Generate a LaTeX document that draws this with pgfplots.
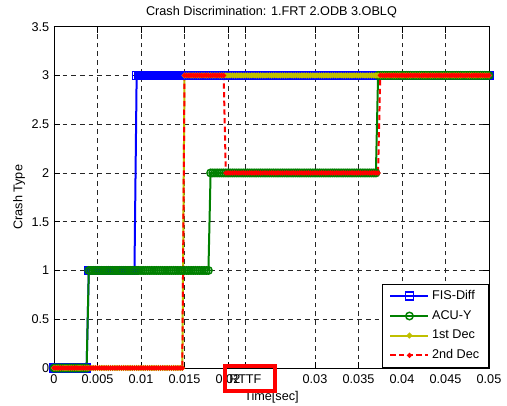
\documentclass[border=0pt]{standalone}
\usepackage{fontspec}
\setmainfont{Liberation Sans}
\usepackage{pgfplots}
\pgfplotsset{compat=1.18}
\usepackage{pgfplotstable}
\usetikzlibrary{calc}
\definecolor{mblue}{rgb}{0,0,1}
\definecolor{mgreen}{rgb}{0,0.5,0}
\definecolor{myellow}{rgb}{0.75,0.75,0}
\definecolor{mred}{rgb}{1,0,0}

\pgfplotstableread{
t fis acu da db
0 0 0 0 0
0.00025 0 0 0 0
0.0005 0 0 0 0
0.00075 0 0 0 0
0.001 0 0 0 0
0.00125 0 0 0 0
0.0015 0 0 0 0
0.00175 0 0 0 0
0.002 0 0 0 0
0.00225 0 0 0 0
0.0025 0 0 0 0
0.00275 0 0 0 0
0.003 0 0 0 0
0.00325 0 0 0 0
0.0035 0 0 0 0
0.00375 0 0 0 0
0.004 1 1 0 0
0.00425 1 1 0 0
0.0045 1 1 0 0
0.00475 1 1 0 0
0.005 1 1 0 0
0.00525 1 1 0 0
0.0055 1 1 0 0
0.00575 1 1 0 0
0.006 1 1 0 0
0.00625 1 1 0 0
0.0065 1 1 0 0
0.00675 1 1 0 0
0.007 1 1 0 0
0.00725 1 1 0 0
0.0075 1 1 0 0
0.00775 1 1 0 0
0.008 1 1 0 0
0.00825 1 1 0 0
0.0085 1 1 0 0
0.00875 1 1 0 0
0.009 1 1 0 0
0.00925 1 1 0 0
0.0095 3 1 0 0
0.00975 3 1 0 0
0.01 3 1 0 0
0.01025 3 1 0 0
0.0105 3 1 0 0
0.01075 3 1 0 0
0.011 3 1 0 0
0.01125 3 1 0 0
0.0115 3 1 0 0
0.01175 3 1 0 0
0.012 3 1 0 0
0.01225 3 1 0 0
0.0125 3 1 0 0
0.01275 3 1 0 0
0.013 3 1 0 0
0.01325 3 1 0 0
0.0135 3 1 0 0
0.01375 3 1 0 0
0.014 3 1 0 0
0.01425 3 1 0 0
0.0145 3 1 0 0
0.01475 3 1 0 0
0.015 3 1 3 3
0.01525 3 1 3 3
0.0155 3 1 3 3
0.01575 3 1 3 3
0.016 3 1 3 3
0.01625 3 1 3 3
0.0165 3 1 3 3
0.01675 3 1 3 3
0.017 3 1 3 3
0.01725 3 1 3 3
0.0175 3 1 3 3
0.01775 3 1 3 3
0.018 3 2 3 3
0.01825 3 2 3 3
0.0185 3 2 3 3
0.01875 3 2 3 3
0.019 3 2 3 3
0.01925 3 2 3 3
0.0195 3 2 3 3
0.01975 3 2 3 2
0.02 3 2 3 2
0.02025 3 2 3 2
0.0205 3 2 3 2
0.02075 3 2 3 2
0.021 3 2 3 2
0.02125 3 2 3 2
0.0215 3 2 3 2
0.02175 3 2 3 2
0.022 3 2 3 2
0.02225 3 2 3 2
0.0225 3 2 3 2
0.02275 3 2 3 2
0.023 3 2 3 2
0.02325 3 2 3 2
0.0235 3 2 3 2
0.02375 3 2 3 2
0.024 3 2 3 2
0.02425 3 2 3 2
0.0245 3 2 3 2
0.02475 3 2 3 2
0.025 3 2 3 2
0.02525 3 2 3 2
0.0255 3 2 3 2
0.02575 3 2 3 2
0.026 3 2 3 2
0.02625 3 2 3 2
0.0265 3 2 3 2
0.02675 3 2 3 2
0.027 3 2 3 2
0.02725 3 2 3 2
0.0275 3 2 3 2
0.02775 3 2 3 2
0.028 3 2 3 2
0.02825 3 2 3 2
0.0285 3 2 3 2
0.02875 3 2 3 2
0.029 3 2 3 2
0.02925 3 2 3 2
0.0295 3 2 3 2
0.02975 3 2 3 2
0.03 3 2 3 2
0.03025 3 2 3 2
0.0305 3 2 3 2
0.03075 3 2 3 2
0.031 3 2 3 2
0.03125 3 2 3 2
0.0315 3 2 3 2
0.03175 3 2 3 2
0.032 3 2 3 2
0.03225 3 2 3 2
0.0325 3 2 3 2
0.03275 3 2 3 2
0.033 3 2 3 2
0.03325 3 2 3 2
0.0335 3 2 3 2
0.03375 3 2 3 2
0.034 3 2 3 2
0.03425 3 2 3 2
0.0345 3 2 3 2
0.03475 3 2 3 2
0.035 3 2 3 2
0.03525 3 2 3 2
0.0355 3 2 3 2
0.03575 3 2 3 2
0.036 3 2 3 2
0.03625 3 2 3 2
0.0365 3 2 3 2
0.03675 3 2 3 2
0.037 3 2 3 2
0.03725 3 3 3 2
0.0375 3 3 3 3
0.03775 3 3 3 3
0.038 3 3 3 3
0.03825 3 3 3 3
0.0385 3 3 3 3
0.03875 3 3 3 3
0.039 3 3 3 3
0.03925 3 3 3 3
0.0395 3 3 3 3
0.03975 3 3 3 3
0.04 3 3 3 3
0.04025 3 3 3 3
0.0405 3 3 3 3
0.04075 3 3 3 3
0.041 3 3 3 3
0.04125 3 3 3 3
0.0415 3 3 3 3
0.04175 3 3 3 3
0.042 3 3 3 3
0.04225 3 3 3 3
0.0425 3 3 3 3
0.04275 3 3 3 3
0.043 3 3 3 3
0.04325 3 3 3 3
0.0435 3 3 3 3
0.04375 3 3 3 3
0.044 3 3 3 3
0.04425 3 3 3 3
0.0445 3 3 3 3
0.04475 3 3 3 3
0.045 3 3 3 3
0.04525 3 3 3 3
0.0455 3 3 3 3
0.04575 3 3 3 3
0.046 3 3 3 3
0.04625 3 3 3 3
0.0465 3 3 3 3
0.04675 3 3 3 3
0.047 3 3 3 3
0.04725 3 3 3 3
0.0475 3 3 3 3
0.04775 3 3 3 3
0.048 3 3 3 3
0.04825 3 3 3 3
0.0485 3 3 3 3
0.04875 3 3 3 3
0.049 3 3 3 3
0.04925 3 3 3 3
0.0495 3 3 3 3
0.04975 3 3 3 3
0.05 3 3 3 3
}\crash

\begin{document}
\begin{tikzpicture}
\begin{axis}[
  scale only axis,
  width=326.25pt, height=256pt,
  xmin=0, xmax=0.05, ymin=0, ymax=3.5,
  scaled x ticks=false, scaled y ticks=false,
  xtick={0,0.005,0.01,0.015,0.02,0.022,0.03,0.035,0.04,0.045,0.05},
  xticklabels={0,0.005,0.01,0.015,0.02,RTTF,0.03,0.035,0.04,0.045,0.05},
  ytick={0,0.5,1,1.5,2,2.5,3,3.5},
  yticklabels={0,0.5,1,1.5,2,2.5,3,3.5},
  xticklabel style={yshift=-1.5pt},
  tick align=inside, xtick pos=both, ytick pos=both,
  major tick length=4.5pt,
  tick style={black, line width=0.5pt},
  grid=major,
  major grid style={black!85, dash pattern=on 3.5pt off 3pt, line width=0.55pt},
  axis line style={black, line width=0.6pt},
  font=\fontsize{9.5}{11}\selectfont,
  every axis title shift=0pt,
  title={Crash Discrimination: 1.FRT 2.ODB 3.OBLQ},
  title style={at={(axis description cs:0.5,1.044)}, anchor=center},
  xlabel={Time[sec]},
  xlabel style={at={(axis description cs:0.5,-0.085)}, anchor=center},
  ylabel={Crash Type},
  ylabel style={at={(axis description cs:-0.0805,0.5)}, anchor=center},
  clip=false,
  legend cell align=left,
  legend style={at={(1,0)}, anchor=south east, draw=black, line width=0.6pt,
    font=\fontsize{9.5}{11}\selectfont, inner xsep=5pt, inner ysep=3pt, row sep=2.6pt},
  legend image code/.code={%
    \draw[mark repeat=2,mark phase=2,#1] plot coordinates {(0cm,0cm)(0.5cm,0cm)(1cm,0cm)};},
]
\addplot[mblue, line width=1.5pt, mark=square, mark size=3pt,
  mark options={solid, line width=1.1pt}] table[x=t, y=fis] {\crash};
\addlegendentry{FIS-Diff}
\addplot[mgreen, line width=1.5pt, mark=o, mark size=2.8pt,
  mark options={solid, line width=1.1pt}] table[x=t, y=acu] {\crash};
\addlegendentry{ACU-Y}
\addplot[myellow, line width=1.5pt, mark=*, mark size=1.3pt,
  mark options={solid}] table[x=t, y=da] {\crash};
\addlegendentry{1st Dec}
\addplot[mred, line width=1.5pt, dash pattern=on 4pt off 2.5pt, mark=*, mark size=1pt,
  mark options={solid}] table[x=t, y=db] {\crash};
\addlegendentry{2nd Dec}
\coordinate (SW) at (rel axis cs:0,0);
\coordinate (NE) at (rel axis cs:1,1);
\coordinate (B1) at (axis cs:0.01962,0.024);
\coordinate (B2) at (axis cs:0.0254,-0.233);
\end{axis}
\draw[mred, line width=3pt] (B1) rectangle (B2);
\pgfresetboundingbox
\path[use as bounding box] ($(SW)+(-40.5pt,-28.5pt)$) rectangle ($(NE)+(13.5pt,20pt)$);
\end{tikzpicture}
\end{document}
